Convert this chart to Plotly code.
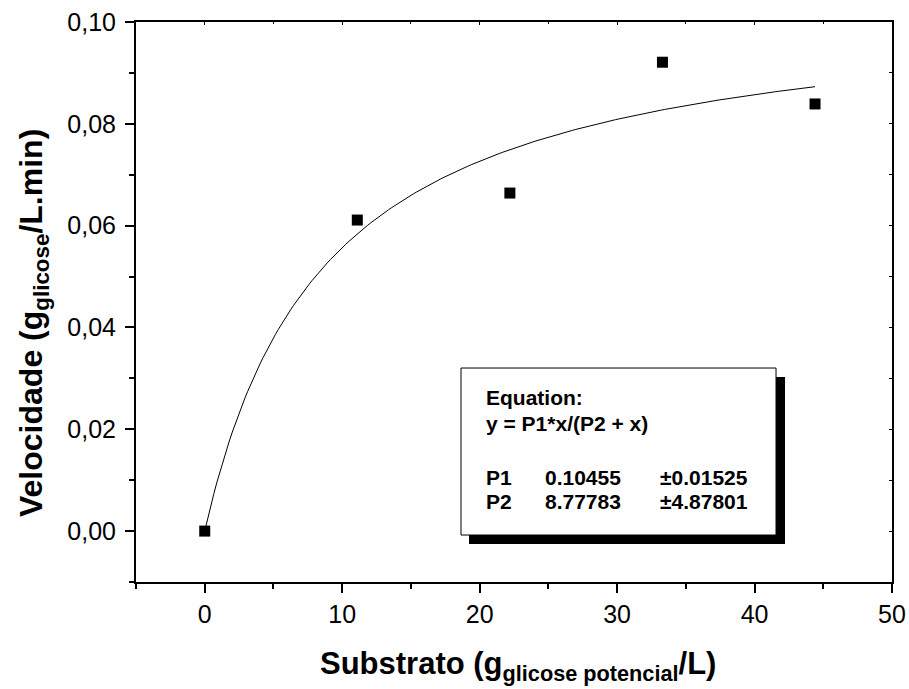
import plotly.graph_objects as go

# Data
substrato = [0.0, 11.1, 22.2, 33.3, 44.4]
velocidade = [0.0, 0.0611, 0.0664, 0.0921, 0.0839]

# Fit parameters shown in the chart
P1 = 0.10455
P2 = 8.77783
P1_err = 0.01525
P2_err = 4.87801

x_ticks = [0, 10, 20, 30, 40, 50]
y_ticks = [0.00, 0.02, 0.04, 0.06, 0.08, 0.10]

x_title = "<b>Substrato (g<sub>glicose potencial</sub>/L)</b>"
y_title = "<b>Velocidade (g<sub>glicose</sub>/L.min)</b>"

n = 200
fit_x = [44.4 * i / (n - 1) for i in range(n)]
fit_y = [P1 * x / (P2 + x) for x in fit_x]

fig = go.Figure()
fig.add_trace(go.Scatter(x=fit_x, y=fit_y, mode="lines",
                         line=dict(color="black", width=1), showlegend=False,
                         hoverinfo="skip"))
fig.add_trace(go.Scatter(x=substrato, y=velocidade, mode="markers",
                         marker=dict(symbol="square", size=11, color="black"),
                         showlegend=False))
# invisible trace for the mirrored top/right axes
fig.add_trace(go.Scatter(x=[None], y=[None], xaxis="x2", yaxis="y2",
                         showlegend=False, hoverinfo="skip"))

FAM = "Liberation Sans, Arial, sans-serif"
font_tick = dict(family=FAM, size=25, color="black")
font_xtitle = dict(family=FAM, size=31, color="black")
font_ytitle = dict(family=FAM, size=32, color="black")

fig.update_layout(
    width=909, height=689,
    margin=dict(l=136, r=17, t=22, b=107),
    paper_bgcolor="white", plot_bgcolor="white",
    separators=",.",
    xaxis=dict(range=[-5, 50], tickvals=x_ticks, tickformat="d", automargin=False,
               ticks="outside", ticklen=9, tickwidth=2, tickcolor="black",
               minor=dict(dtick=5, tick0=0, ticks="outside", ticklen=5, tickwidth=2, tickcolor="black"),
               showline=True, linecolor="black", linewidth=2,
               showgrid=False, zeroline=False, tickfont=font_tick),
    yaxis=dict(range=[-0.01, 0.10], tickvals=y_ticks, tickformat=".2f", automargin=False,
               ticks="outside", ticklen=9, tickwidth=2, tickcolor="black",
               ticklabelstandoff=4,
               minor=dict(dtick=0.01, tick0=0, ticks="outside", ticklen=5, tickwidth=2, tickcolor="black"),
               showline=True, linecolor="black", linewidth=2,
               showgrid=False, zeroline=False, tickfont=font_tick),
    xaxis2=dict(overlaying="x", side="top", anchor="y2", range=[-5, 50], tickvals=x_ticks,
                automargin=False,
                ticks="inside", ticklen=3, tickwidth=1, tickcolor="black",
                minor=dict(dtick=5, tick0=0, ticks="inside", ticklen=2, tickcolor="black"),
                showticklabels=False, showline=True, linecolor="black", linewidth=2,
                showgrid=False, zeroline=False),
    yaxis2=dict(overlaying="y", side="right", anchor="x2", range=[-0.01, 0.10], tickvals=y_ticks,
                automargin=False,
                ticks="inside", ticklen=3, tickwidth=1, tickcolor="black",
                minor=dict(dtick=0.01, tick0=0, ticks="inside", ticklen=3, tickcolor="black"),
                showticklabels=False, showline=True, linecolor="black", linewidth=2,
                showgrid=False, zeroline=False),
)


def px_x(px):
    return (px - 136) / 756


def px_y(py):
    return (582 - py) / 560


# Axis titles
fig.add_annotation(text=x_title, xref="paper", yref="paper", x=px_x(518), y=px_y(666),
                   xanchor="center", yanchor="middle", showarrow=False, font=font_xtitle)
fig.add_annotation(text=y_title, xref="paper", yref="paper", x=px_x(33), y=px_y(323),
                   xanchor="center", yanchor="middle", textangle=-90, showarrow=False, font=font_ytitle)

# Equation box with shadow
fig.add_shape(type="rect", xref="paper", yref="paper",
              x0=0.4405, x1=0.8585, y0=0.0679, y1=0.3661,
              fillcolor="black", line=dict(color="black", width=0), layer="above")
fig.add_shape(type="rect", xref="paper", yref="paper",
              x0=0.4299, x1=0.8466, y0=0.0839, y1=0.3821,
              fillcolor="white", line=dict(color="black", width=1), layer="above")

box_font = dict(family=FAM, size=21, color="black")

lines = [
    ("<b>Equation:</b>", 484, 397),
    ("<b>y = P1*x/(P2 + x)</b>", 484, 423),
]
for txt, x, y in lines:
    fig.add_annotation(text=txt, xref="paper", yref="paper", x=px_x(x), y=px_y(y),
                       xanchor="left", yanchor="middle", showarrow=False, font=box_font)

rows = [
    ("P1", P1, P1_err, 477),
    ("P2", P2, P2_err, 501),
]
for name, val, err, y in rows:
    fig.add_annotation(text=f"<b>{name}</b>", xref="paper", yref="paper", x=px_x(484), y=px_y(y),
                       xanchor="left", yanchor="middle", showarrow=False, font=box_font)
    fig.add_annotation(text=f"<b>{val:.5f}</b>", xref="paper", yref="paper", x=px_x(543), y=px_y(y),
                       xanchor="left", yanchor="middle", showarrow=False, font=box_font)
    fig.add_annotation(text=f"<b>±{err:.5f}</b>", xref="paper", yref="paper", x=px_x(658), y=px_y(y),
                       xanchor="left", yanchor="middle", showarrow=False, font=box_font)

fig.write_html("out.html")
